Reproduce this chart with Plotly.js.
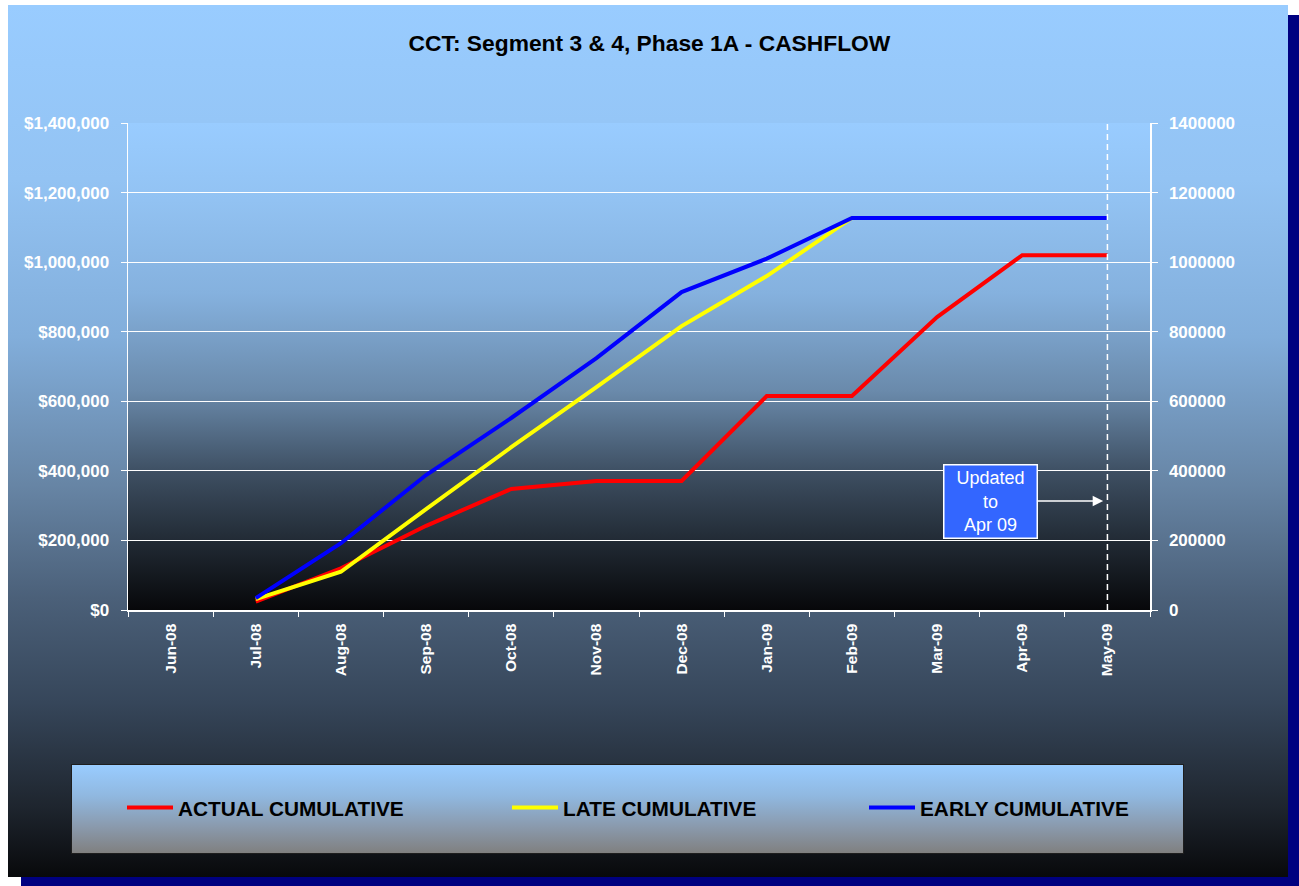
<!DOCTYPE html>
<html>
<head>
<meta charset="utf-8">
<script src="https://cdn.plot.ly/plotly-3.0.1.min.js"></script>
<style>
  html, body { margin: 0; padding: 0; background: #ffffff; overflow: hidden; }
  #wrap { position: relative; width: 1299px; height: 886px; overflow: hidden; }
  #panel { position: absolute; left: 8px; top: 5px; width: 1280px; height: 872px;
    background: linear-gradient(to bottom, #99CCFF 0%, #93c3f3 20%, #82aedb 38%, #6785a5 55%, #4b6079 68%, #36465a 80%, #1e252e 92%, #08090b 100%);
    box-shadow: 13px 10px 0 #000080; }
  #plotbg { position: absolute; left: 128px; top: 123px; width: 1022px; height: 487px;
    background: linear-gradient(to bottom, #99CCFF 0%, #92c2f2 16%, #85b1de 35%, #6a8aab 55%, #3d4e61 72%, #212a34 86%, #07080a 100%); }
  #legbg { position: absolute; left: 71px; top: 764px; width: 1111px; height: 88px;
    border: 1px solid #1e1e1e;
    background: linear-gradient(to bottom, #99CCFF 0%, #90b8e0 35%, #8a9aad 70%, #808080 100%); }
  #chart { position: absolute; left: 0; top: 0; width: 1299px; height: 886px; }
</style>
</head>
<body>
<div id="wrap">
  <div id="panel"></div>
  <div id="plotbg"></div>
  <div id="legbg"></div>
  <div id="chart"></div>
</div>
<script>
const months = ['Jun-08','Jul-08','Aug-08','Sep-08','Oct-08','Nov-08','Dec-08','Jan-09','Feb-09','Mar-09','Apr-09','May-09'];
const actualCumulative = [null, 24000, 120000, 242000, 348000, 371000, 371000, 615000, 615000, 842000, 1020000, 1020000];
const lateCumulative   = [null, 31000, 110000, 290000, 468000, 641000, 816000, 960000, 1127000, 1127000, 1127000, 1127000];
const earlyCumulative  = [null, 34000, 192000, 388000, 552000, 724000, 914000, 1010000, 1127000, 1127000, 1127000, 1127000];
const yTickVals = [0, 200000, 400000, 600000, 800000, 1000000, 1200000, 1400000];
const yTickTextLeft = ['$0', '$200,000', '$400,000', '$600,000', '$800,000', '$1,000,000', '$1,200,000', '$1,400,000'];
const yTickTextRight = ['0', '200000', '400000', '600000', '800000', '1000000', '1200000', '1400000'];
const seriesNames = ['ACTUAL CUMULATIVE', 'LATE CUMULATIVE', 'EARLY CUMULATIVE'];
const titleText = 'CCT: Segment 3 &amp; 4, Phase 1A - CASHFLOW';
const noteText = 'Updated<br>to<br>Apr 09';
const updatedMonth = 'May-09';
const notePointValue = 313000;

const FONT = '"Liberation Sans", Arial, sans-serif';
const ML = 128, MR = 149, MT = 123, MB = 276;
const PW = 1299 - ML - MR, PH = 886 - MT - MB;
const px2x = p => (p - ML) / PW;
const px2y = p => (886 - MB - p) / PH;

const traces = [
  { x: months, y: actualCumulative, name: seriesNames[0], type: 'scatter', mode: 'lines',
    line: { color: '#FF0000', width: 4 }, legend: 'legend', hoverinfo: 'x+y' },
  { x: months, y: lateCumulative, name: seriesNames[1], type: 'scatter', mode: 'lines',
    line: { color: '#FFFF00', width: 4 }, legend: 'legend2', hoverinfo: 'x+y' },
  { x: months, y: earlyCumulative, name: seriesNames[2], type: 'scatter', mode: 'lines',
    line: { color: '#0000FF', width: 4 }, legend: 'legend3', hoverinfo: 'x+y' },
  { x: months, y: earlyCumulative, yaxis: 'y2', type: 'scatter', mode: 'lines',
    line: { color: 'rgba(0,0,0,0)', width: 0 }, showlegend: false, hoverinfo: 'skip' }
];

const legendCommon = {
  orientation: 'h', bgcolor: 'rgba(0,0,0,0)', borderwidth: 0,
  font: { family: FONT, size: 20.8, color: '#000000', weight: 'bold' },
  itemwidth: 46, xanchor: 'left', yanchor: 'middle', y: px2y(808)
};

const layout = {
  width: 1299, height: 886,
  margin: { l: ML, r: MR, t: MT, b: MB, pad: 0 },
  paper_bgcolor: 'rgba(0,0,0,0)',
  plot_bgcolor: 'rgba(0,0,0,0)',
  showlegend: true,
  title: { text: titleText, font: { family: FONT, size: 22.8, color: '#000000', weight: 'bold' },
    x: 0.5, xanchor: 'center', y: 1 - 43 / 886, yanchor: 'middle' },
  xaxis: {
    type: 'category', categoryorder: 'array', categoryarray: months,
    range: [-0.5, months.length - 0.5],
    tickson: 'boundaries', ticks: 'outside', ticklen: 5, tickcolor: '#ffffff', tickwidth: 1,
    showline: true, linecolor: '#ffffff', linewidth: 1.5, showgrid: false, zeroline: false,
    tickangle: -90, tickfont: { family: FONT, size: 15.5, color: '#ffffff', weight: 'bold' },
    ticklabelstandoff: 6, fixedrange: true
  },
  yaxis: {
    range: [0, 1400000], tickmode: 'array', tickvals: yTickVals, ticktext: yTickTextLeft,
    ticks: 'outside', ticklen: 6, tickcolor: '#ffffff', tickwidth: 1,
    showline: true, linecolor: '#ffffff', linewidth: 1.5,
    showgrid: true, gridcolor: '#ffffff', gridwidth: 1, zeroline: false,
    tickfont: { family: FONT, size: 17, color: '#ffffff', weight: 'bold' },
    ticklabelstandoff: 8, fixedrange: true
  },
  yaxis2: {
    overlaying: 'y', side: 'right', range: [0, 1400000], tickmode: 'array', tickvals: yTickVals, ticktext: yTickTextRight,
    ticks: 'outside', ticklen: 6, tickcolor: '#ffffff', tickwidth: 1,
    showline: true, linecolor: '#ffffff', linewidth: 1.5, showgrid: false, zeroline: false,
    tickfont: { family: FONT, size: 17, color: '#ffffff', weight: 'bold' },
    ticklabelstandoff: 8, fixedrange: true
  },
  legend: Object.assign({}, legendCommon, { x: px2x(122) }),
  legend2: Object.assign({}, legendCommon, { x: px2x(507) }),
  legend3: Object.assign({}, legendCommon, { x: px2x(864) }),
  shapes: [
    { type: 'line', xref: 'x', yref: 'paper', x0: updatedMonth, x1: updatedMonth, y0: 0, y1: 1,
      line: { color: '#ffffff', width: 1.5, dash: '6px,4px' } }
  ],
  annotations: [
    { xref: 'x', yref: 'y', x: months.length - 1 - 0.05, y: notePointValue,
      text: noteText, showarrow: true, arrowhead: 2, arrowsize: 1.4, arrowwidth: 1.5, arrowcolor: '#ffffff',
      axref: 'pixel', ayref: 'pixel', ax: -113, ay: 0,
      bgcolor: '#3366FF', bordercolor: '#ffffff', borderwidth: 1.5, borderpad: 0,
      width: 92, height: 72, align: 'center', valign: 'middle',
      font: { family: FONT, size: 18, color: '#ffffff' } }
  ]
};

Plotly.newPlot('chart', traces, layout, { displayModeBar: false, staticPlot: true });
</script>
</body>
</html>
